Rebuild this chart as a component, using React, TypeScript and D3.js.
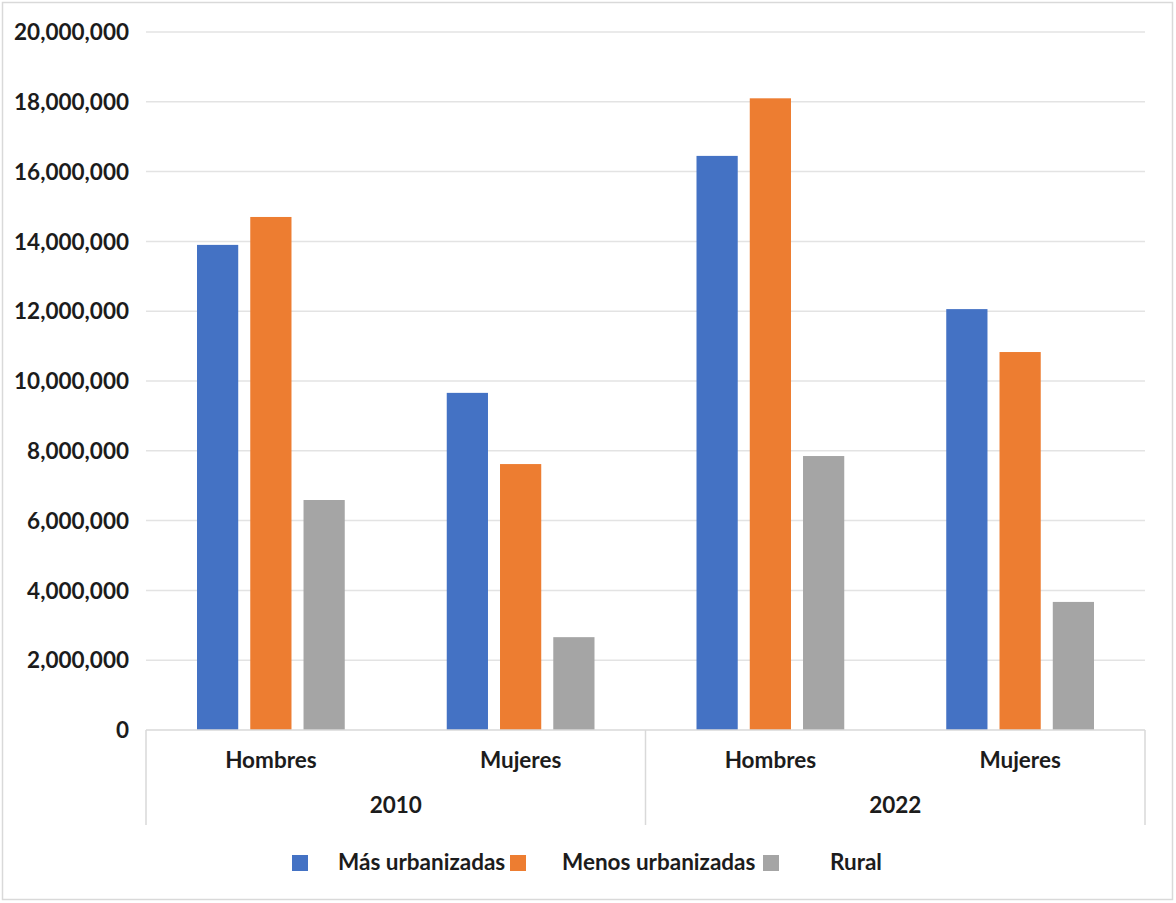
import React from "react";
import * as d3 from "d3";

const years = ["2010", "2022"];
const sexes = ["Hombres", "Mujeres"];
const categories = ["2010|Hombres", "2010|Mujeres", "2022|Hombres", "2022|Mujeres"];
const seriesNames = ["Más urbanizadas", "Menos urbanizadas", "Rural"];
const masUrbanizadas = [13900000, 9660000, 16450000, 12060000];
const menosUrbanizadas = [14700000, 7620000, 18100000, 10830000];
const rural = [6590000, 2660000, 7850000, 3670000];
const yTicks = [0, 2000000, 4000000, 6000000, 8000000, 10000000, 12000000, 14000000, 16000000, 18000000, 20000000];

const colors = ["#4472C4", "#ED7D31", "#A5A5A5"];
const W = 1176, H = 903;
const plotLeft = 146, plotRight = 1145, plotTop = 32, plotBottom = 730;
const FONT = "Lato, 'Open Sans', sans-serif";
const TEXT = "#1c1c1c";
const FS = 22.5;

export default function App() {
  const series = [masUrbanizadas, menosUrbanizadas, rural];
  const y = d3.scaleLinear().domain([0, 20000000]).range([plotBottom, plotTop]);
  const x0 = d3.scaleBand().domain(categories).range([plotLeft, plotRight]).paddingInner(0).paddingOuter(0);
  const x1 = d3.scaleBand().domain(seriesNames).range([51, x0.bandwidth() - 51]).paddingInner(0.226).paddingOuter(0);
  const fmt = d3.format(",");
  const yearScale = d3.scaleBand().domain(years).range([plotLeft, plotRight]);
  const legendX = [292, 510, 763];
  const legendTextX = [338, 562, 830];

  return (
    <svg width={W} height={H} style={{ position: "absolute", left: 0, top: 0, background: "#fff" }} fontFamily={FONT}>
      <rect x={2.5} y={2.5} width={W - 6} height={H - 6} fill="#fff" stroke="#d9d9d9" strokeWidth={1.5} />
      {yTicks.map((t) => (
        <g key={t}>
          {t > 0 && <line x1={plotLeft} x2={plotRight} y1={y(t)} y2={y(t)} stroke="#e3e3e3" strokeWidth={1.5} />}
          <text x={129} y={y(t)} dy="0.36em" textAnchor="end" fontSize={FS} fontWeight={700} fill={TEXT}>
            {fmt(t)}
          </text>
        </g>
      ))}
      {categories.map((c, ci) => (
        <g key={c} transform={`translate(${x0(c)},0)`}>
          {series.map((s, si) => (
            <rect key={si} x={x1(seriesNames[si])} width={x1.bandwidth()} y={y(s[ci])} height={y(0) - y(s[ci])} fill={colors[si]} />
          ))}
          <text x={x0.bandwidth() / 2} y={768} textAnchor="middle" fontSize={FS} fontWeight={700} fill={TEXT}>
            {sexes[ci % 2]}
          </text>
        </g>
      ))}
      <line x1={plotLeft} x2={plotRight} y1={plotBottom} y2={plotBottom} stroke="#d9d9d9" strokeWidth={1.5} />
      {[plotLeft, yearScale(years[1])!, plotRight].map((xx, i) => (
        <line key={i} x1={xx} x2={xx} y1={plotBottom} y2={825} stroke="#d9d9d9" strokeWidth={1.5} />
      ))}
      {years.map((yr) => (
        <text key={yr} x={yearScale(yr)! + yearScale.bandwidth() / 2} y={813} textAnchor="middle" fontSize={FS} fontWeight={700} fill={TEXT}>
          {yr}
        </text>
      ))}
      {seriesNames.map((n, i) => (
        <g key={n}>
          <rect x={legendX[i]} y={855} width={16} height={16} fill={colors[i]} />
          <text x={legendTextX[i]} y={870} fontSize={FS} fontWeight={700} fill={TEXT}>
            {n}
          </text>
        </g>
      ))}
    </svg>
  );
}
